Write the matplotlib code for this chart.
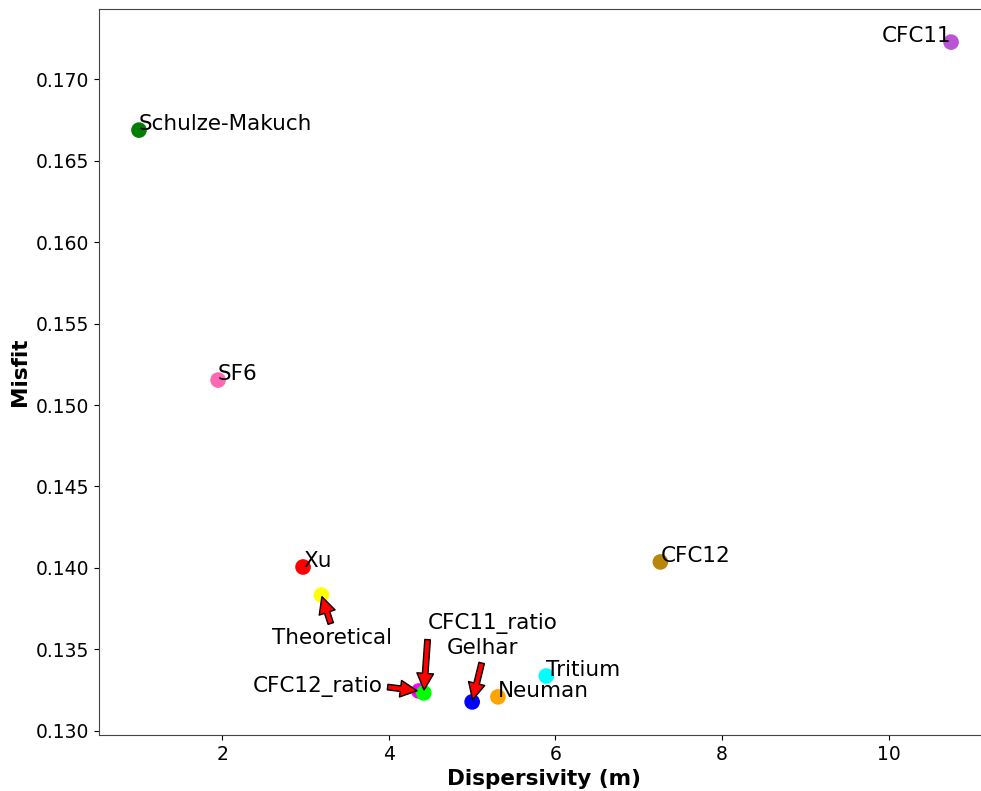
import matplotlib
matplotlib.use("Agg")
import matplotlib.pyplot as plt

# dispersivity (m) vs misfit for each calibration approach
names = ["Schulze-Makuch", "SF6", "Xu", "Theoretical", "CFC12_ratio", "CFC11_ratio",
         "Gelhar", "Neuman", "Tritium", "CFC12", "CFC11"]
dispersivity = [1.00, 1.95, 2.97, 3.19, 4.36, 4.42, 5.00, 5.31, 5.89, 7.26, 10.75]
misfit = [0.16687, 0.15153, 0.14006, 0.13834, 0.13245, 0.13233, 0.13178, 0.13209,
          0.13337, 0.14037, 0.17227]
colors = ["green", "hotpink", "red", "yellow", "magenta", "lime", "blue", "orange",
          "cyan", "darkgoldenrod", "mediumorchid"]

# labels that sit too close together get an arrow and an offset text position
arrow_text = {
    "Theoretical": (2.60, 0.13534),
    "CFC11_ratio": (4.47, 0.13626),
    "Gelhar": (4.70, 0.13472),
    "CFC12_ratio": (2.37, 0.13239),
}

fig = plt.figure(figsize=(9.81, 7.91), dpi=100)
ax = fig.add_axes([0.1009, 0.0708, 0.9068, 0.9178])

ax.scatter(dispersivity, misfit, c=colors, s=105, zorder=3)

for name, x, y in zip(names, dispersivity, misfit):
    if name in arrow_text:
        ax.annotate(name, xy=(x, y), xytext=arrow_text[name], fontsize=15.5,
                    arrowprops=dict(facecolor="red", shrink=0.05), zorder=4)
    elif name == "CFC11":
        ax.text(x, y, name, fontsize=15.5, ha="right", zorder=4)
    else:
        ax.text(x, y, name, fontsize=15.5, zorder=4)

ax.set_xlim(0.52, 11.2)
ax.set_ylim(0.12975, 0.1743)
ax.set_xticks([2, 4, 6, 8, 10])
ax.set_yticks([0.130, 0.135, 0.140, 0.145, 0.150, 0.155, 0.160, 0.165, 0.170])
ax.set_yticklabels([f"{v:.3f}" for v in ax.get_yticks()])
ax.tick_params(labelsize=13.5)
for side in ["left", "bottom", "top"]:
    ax.spines[side].set_color("#444444")
ax.set_xlabel("Dispersivity (m)", fontsize=15.5, fontweight="bold")
ax.set_ylabel("Misfit", fontsize=15.5, fontweight="bold")

fig.savefig("out.png", dpi=100)
